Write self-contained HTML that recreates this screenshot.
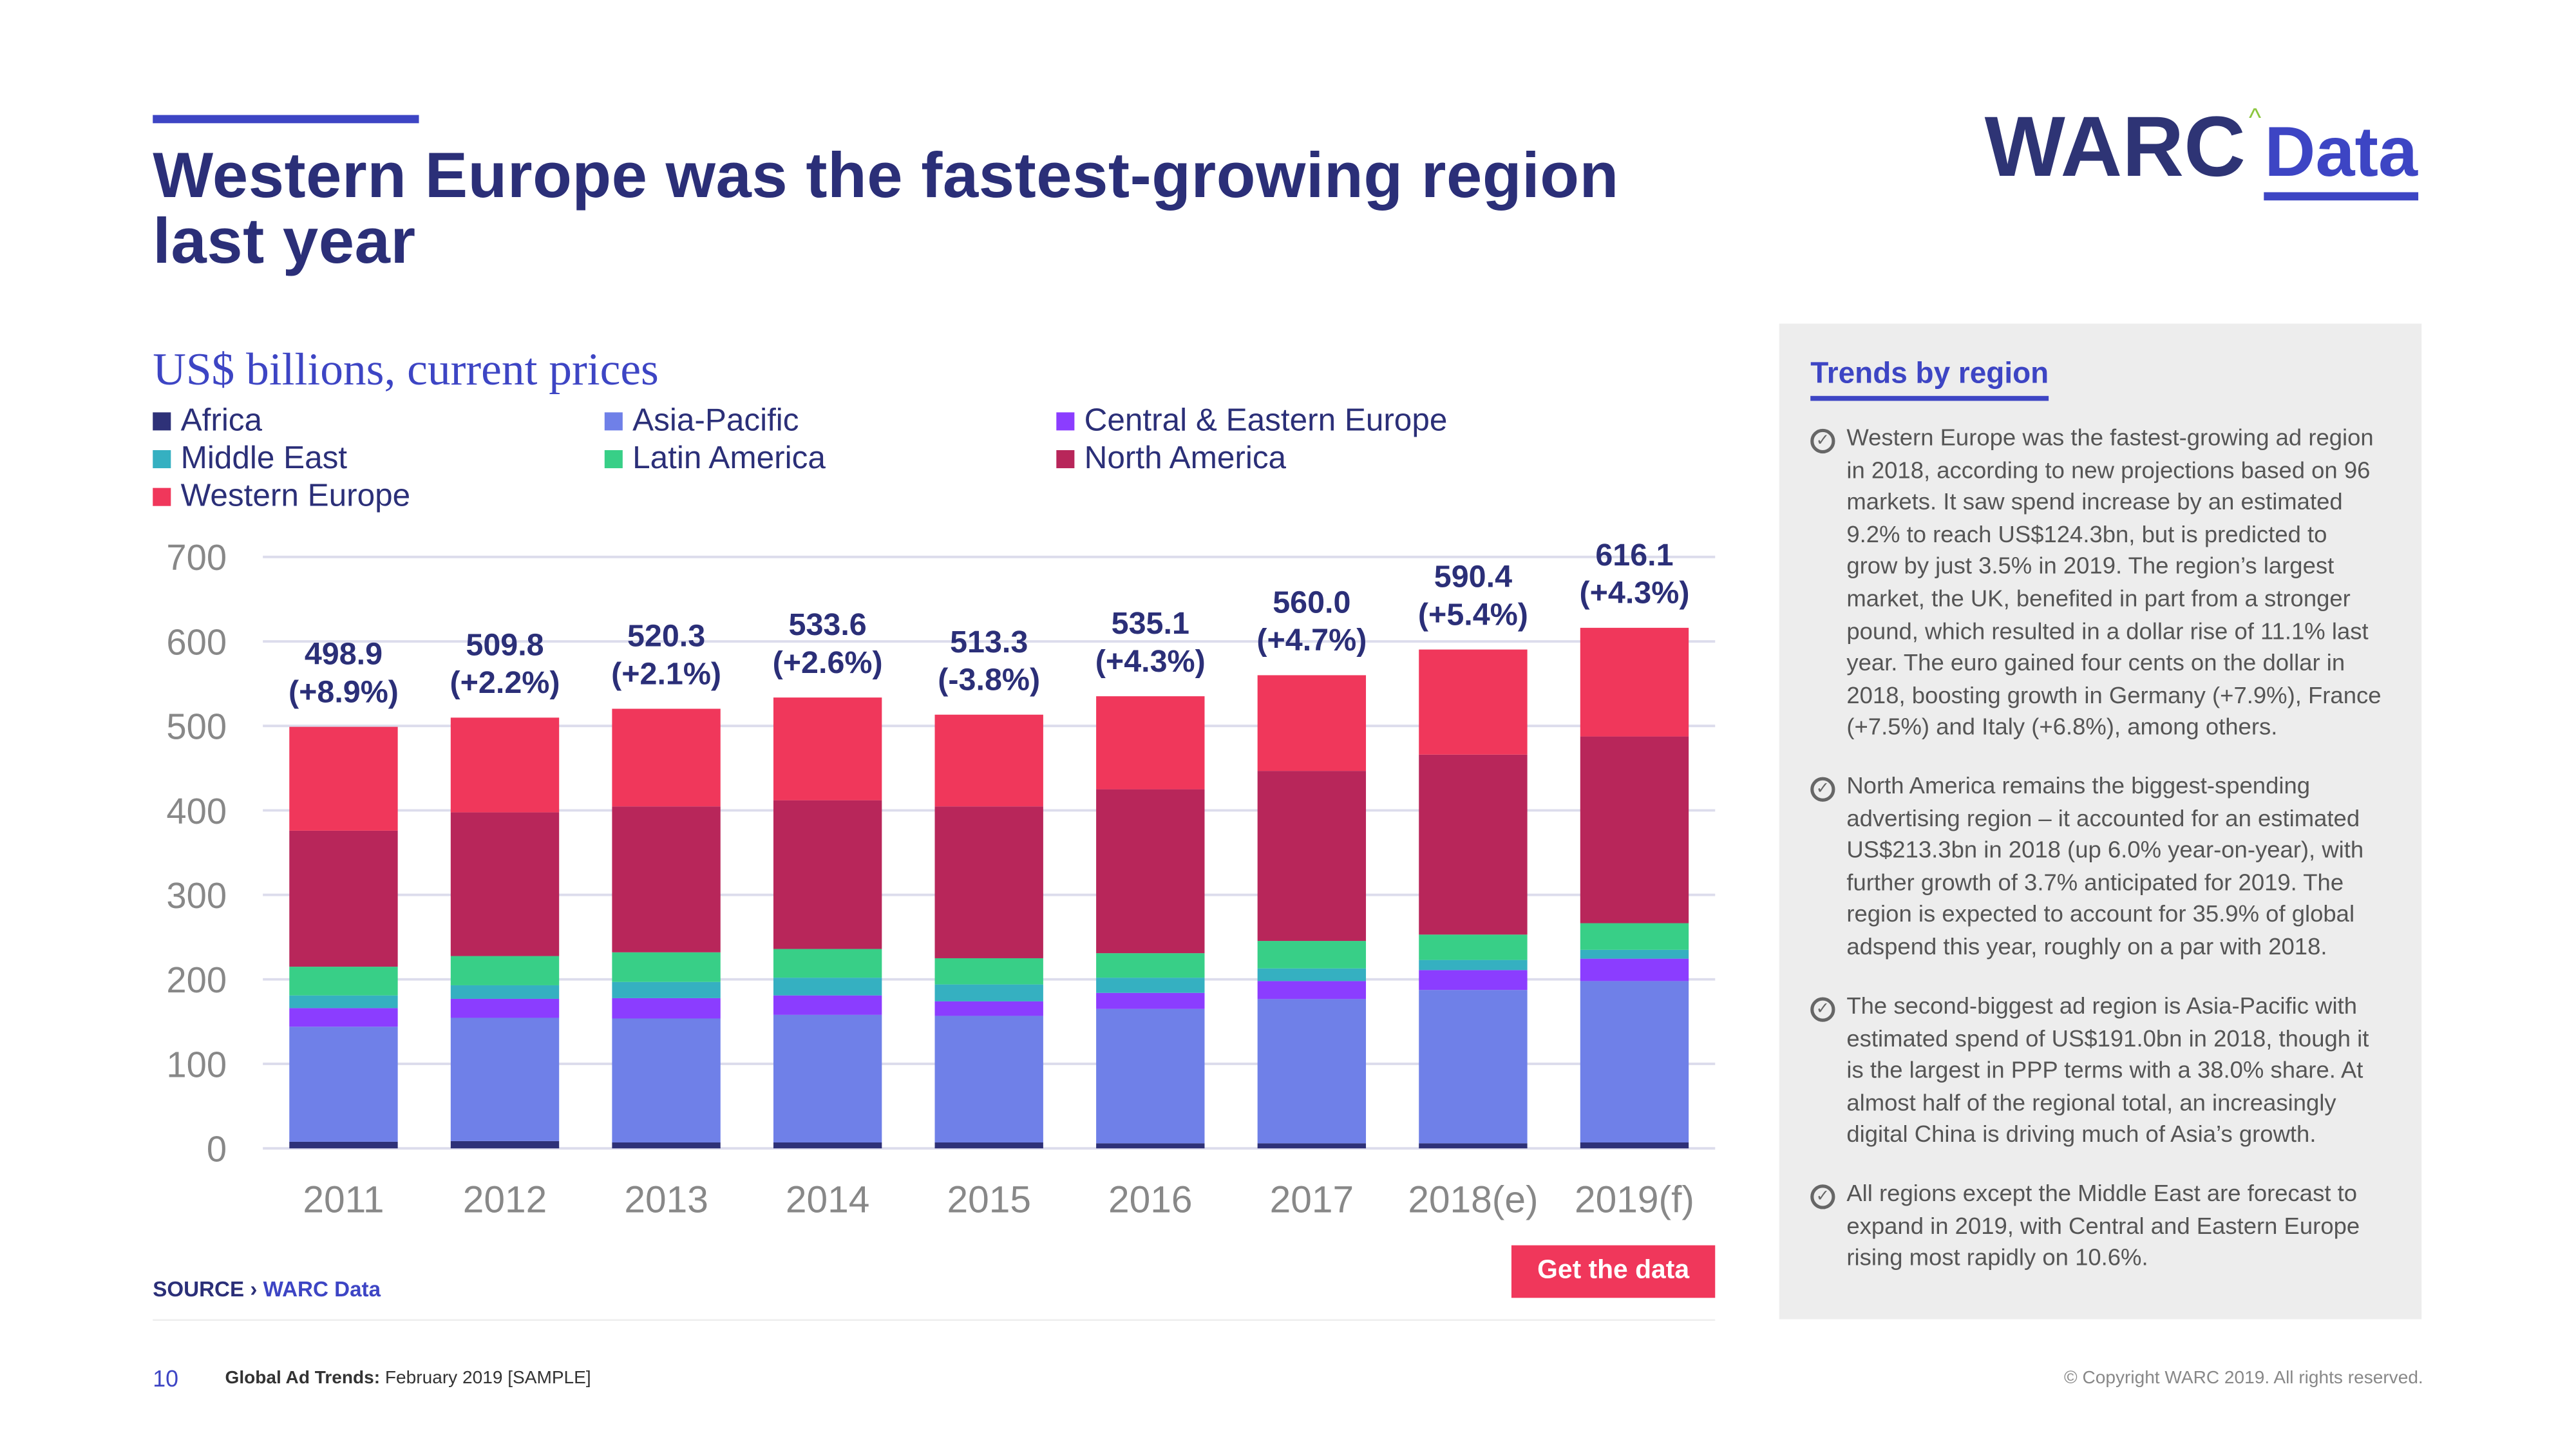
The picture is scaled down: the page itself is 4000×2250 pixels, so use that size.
<!DOCTYPE html>
<html><head><meta charset="utf-8"><style>
html,body{margin:0;padding:0;background:#fff;}
body{width:4000px;height:2250px;overflow:hidden;}
#wrap{position:absolute;left:0;top:0;width:1568px;height:882px;transform:scale(2.55102);transform-origin:0 0;font-family:"Liberation Sans",sans-serif;}
.abs{position:absolute;}
.leg{position:absolute;font-size:19.4px;color:#2b2f78;white-space:nowrap;}
.leg i{display:inline-block;width:11px;height:11px;margin-right:6px;vertical-align:0px;}
.para{position:absolute;left:1102px;width:372px;font-size:14.3px;line-height:19.6px;color:#555;white-space:nowrap;}
.para p{margin:0 0 0 22px;}
.chk{position:absolute;left:0;top:3px;width:11px;height:11px;border:2px solid #666;border-radius:50%;font-size:10px;line-height:11px;text-align:center;color:#666;}
</style></head><body>
<div id="wrap">
<div class="abs" style="left:93px;top:70px;width:162px;height:5px;background:#3d45c4"></div>
<div class="abs" style="left:93px;top:88px;font-size:39px;line-height:40px;font-weight:bold;color:#2b2f78;letter-spacing:0.2px">Western Europe was the fastest-growing region<br>last year</div>
<div class="abs" style="left:1208px;top:60px;font-size:52px;font-weight:bold;color:#2e3475;white-space:nowrap">WARC<span style="font-size:16px;color:#8cc63f;vertical-align:30px;font-weight:normal;margin:0 2px">^</span><span style="color:#3d45c4;font-size:43px;border-bottom:5px solid #3d45c4">Data</span></div>
<div class="abs" style="left:93px;top:210px;font-family:'Liberation Serif',serif;font-size:28px;color:#3d45c4">US$ billions, current prices</div>
<div class="leg" style="left:93px;top:245px"><i style="background:#2e3178"></i>Africa</div>
<div class="leg" style="left:368px;top:245px"><i style="background:#6f80e8"></i>Asia-Pacific</div>
<div class="leg" style="left:643px;top:245px"><i style="background:#8b3dff"></i>Central &amp; Eastern Europe</div>
<div class="leg" style="left:93px;top:268px"><i style="background:#35b0c1"></i>Middle East</div>
<div class="leg" style="left:368px;top:268px"><i style="background:#38cf87"></i>Latin America</div>
<div class="leg" style="left:643px;top:268px"><i style="background:#b8265a"></i>North America</div>
<div class="leg" style="left:93px;top:291px"><i style="background:#f0375b"></i>Western Europe</div>
<svg id="chart" class="abs" style="left:0;top:0" width="1080" height="770"></svg>
<div class="abs" style="left:93px;top:777px;font-size:13px;font-weight:bold;color:#2b2f78">SOURCE › <span style="color:#3d45c4">WARC Data</span></div>
<div class="abs" style="left:920px;top:758px;width:124px;height:32px;background:#f0375b;color:#fff;font-size:16px;font-weight:bold;text-align:center;line-height:32px">Get the data</div>
<div class="abs" style="left:93px;top:803px;width:951px;height:1px;background:#eee"></div>
<div class="abs" style="left:1083px;top:197px;width:391px;height:606px;background:#ededed"></div>
<div class="abs" style="left:1102px;top:217px;font-size:18px;font-weight:bold;color:#3d45c4;border-bottom:3px solid #3d45c4;padding-bottom:3px">Trends by region</div>
<div class="para" style="top:258px"><span class="chk">✓</span><p>Western Europe was the fastest-growing ad region<br>in 2018, according to new projections based on 96<br>markets. It saw spend increase by an estimated<br>9.2% to reach US$124.3bn, but is predicted to<br>grow by just 3.5% in 2019. The region’s largest<br>market, the UK, benefited in part from a stronger<br>pound, which resulted in a dollar rise of 11.1% last<br>year. The euro gained four cents on the dollar in<br>2018, boosting growth in Germany (+7.9%), France<br>(+7.5%) and Italy (+6.8%), among others.</p></div>
<div class="para" style="top:470px"><span class="chk">✓</span><p>North America remains the biggest-spending<br>advertising region – it accounted for an estimated<br>US$213.3bn in 2018 (up 6.0% year-on-year), with<br>further growth of 3.7% anticipated for 2019. The<br>region is expected to account for 35.9% of global<br>adspend this year, roughly on a par with 2018.</p></div>
<div class="para" style="top:604px"><span class="chk">✓</span><p>The second-biggest ad region is Asia-Pacific with<br>estimated spend of US$191.0bn in 2018, though it<br>is the largest in PPP terms with a 38.0% share. At<br>almost half of the regional total, an increasingly<br>digital China is driving much of Asia’s growth.</p></div>
<div class="para" style="top:718px"><span class="chk">✓</span><p>All regions except the Middle East are forecast to<br>expand in 2019, with Central and Eastern Europe<br>rising most rapidly on 10.6%.</p></div>
<div class="abs" style="left:93px;top:831px;font-size:14px;color:#3d45c4">10</div>
<div class="abs" style="left:137px;top:833px;font-size:11px;color:#333"><b>Global Ad Trends:</b> February 2019 [SAMPLE]</div>
<div class="abs" style="left:1200px;width:275px;text-align:right;top:833px;font-size:11px;color:#888">© Copyright WARC 2019. All rights reserved.</div>
</div>
<script>
const categories=["2011","2012","2013","2014","2015","2016","2017","2018(e)","2019(f)"];
const africa=[7.8,8.6,7,7,7,6,6,6,7];
const asiaPacific=[136.2,145.9,146.7,151,149.8,159,170.7,181.5,191];
const ceEurope=[22,22.5,24.1,23,17.2,19,21.3,23.5,26.5];
const middleEast=[15,16,19.2,21,20,18,15,12,10.5];
const latinAmerica=[34,34.6,35,34,31,29,32.5,30,31.5];
const northAmerica=[161,170.1,172.7,176,179.7,194,201.2,213,221];
const westernEurope=[122.9,112.1,115.6,121.6,108.6,110.1,113.3,124.4,128.6];
const totalLabels=["498.9","509.8","520.3","533.6","513.3","535.1","560.0","590.4","616.1"];
const growthLabels=["(+8.9%)","(+2.2%)","(+2.1%)","(+2.6%)","(-3.8%)","(+4.3%)","(+4.7%)","(+5.4%)","(+4.3%)"];
const yTicks=[0,100,200,300,400,500,600,700];
const series=[
 {name:"africa",vals:africa,color:"#2e3178"},
 {name:"asia-pacific",vals:asiaPacific,color:"#6f80e8"},
 {name:"central-eastern-europe",vals:ceEurope,color:"#8b3dff"},
 {name:"middle-east",vals:middleEast,color:"#35b0c1"},
 {name:"latin-america",vals:latinAmerica,color:"#38cf87"},
 {name:"north-america",vals:northAmerica,color:"#b8265a"},
 {name:"western-europe",vals:westernEurope,color:"#f0375b"}];
const NS="http://www.w3.org/2000/svg";
const svg=document.getElementById('chart');
const y0=699,yTop=339,yMax=700,xL=160,xR=1044;
const y=v=>y0-(v/yMax)*(y0-yTop);
const step=(xR-xL)/categories.length;
const xc=i=>xL+step*(i+0.5);
const bw=66;
function mk(t,a){const e=document.createElementNS(NS,t);for(const k in a)e.setAttribute(k,a[k]);svg.appendChild(e);return e;}
yTicks.forEach(t=>{
 const l=mk('line',{x1:xL,x2:xR,y1:y(t),y2:y(t),stroke:'#dcdcec','stroke-width':1.5});
 
 
 const tx=mk('text',{x:138,y:y(t)+8,'text-anchor':'end','font-size':22,fill:'#888','font-family':'Liberation Sans, sans-serif'});
 tx.textContent=t;
 
 
});
categories.forEach((c,i)=>{
 let cum=0;
 series.forEach(s=>{
  const v=s.vals[i];
  const r=mk('rect',{x:xc(i)-bw/2,y:y(cum+v),width:bw,height:y(cum)-y(cum+v),fill:s.color});
  
  
  cum+=v;
 });
 const top=y(cum);
 const t1=mk('text',{x:xc(i),y:top-38,'text-anchor':'middle','font-size':19,'font-weight':'bold',fill:'#2b2f78','font-family':'Liberation Sans, sans-serif'});
 t1.textContent=totalLabels[i];
 
 
 const t2=mk('text',{x:xc(i),y:top-15,'text-anchor':'middle','font-size':19,'font-weight':'bold',fill:'#2b2f78','font-family':'Liberation Sans, sans-serif'});
 t2.textContent=growthLabels[i];
 
 
 const xl=mk('text',{x:xc(i),y:738,'text-anchor':'middle','font-size':23,fill:'#888','font-family':'Liberation Sans, sans-serif'});
 xl.textContent=c;
 
 
});
</script>
</body></html>
